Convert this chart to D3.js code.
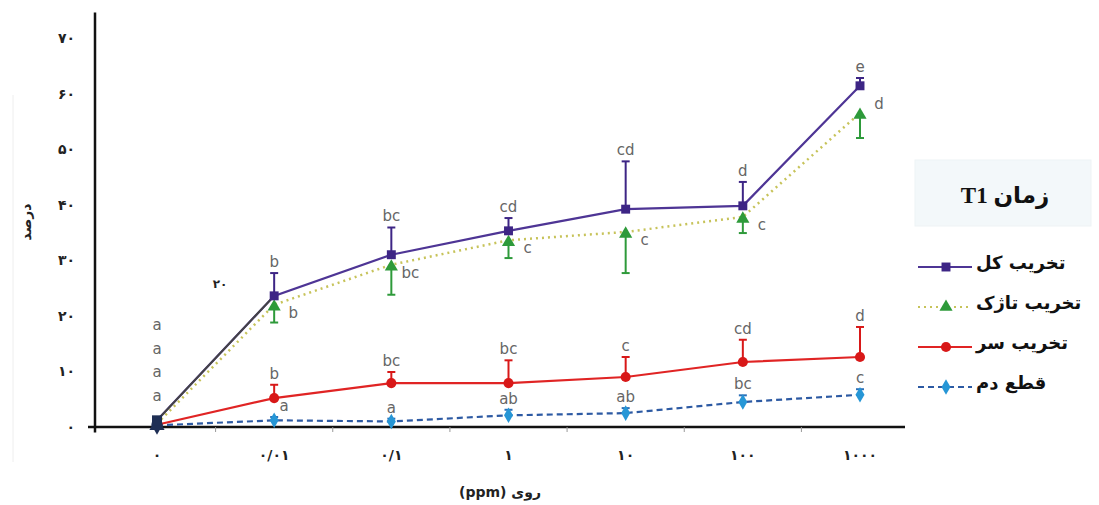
<!DOCTYPE html>
<html><head><meta charset="utf-8">
<script src="https://cdn.jsdelivr.net/npm/d3@7"></script>
<style>body{margin:0;background:#fff}svg{display:block}</style>
</head><body>
<svg id="c" width="1099" height="505"></svg>
<script>
const categories = ["۰","۰/۰۱","۰/۱","۱","۱۰","۱۰۰","۱۰۰۰"];
const yTicks = [0,10,20,30,40,50,60,70];
const yTickLabels = ["۰","۱۰","۲۰","۳۰","۴۰","۵۰","۶۰","۷۰"];
const seriesNames = ["تخریب کل","تخریب تاژک","تخریب سر","قطع دم"];
const total    = [1.2, 23.6, 31.0, 35.3, 39.2, 39.8, 61.4];
const totalErr = [0.5, 4.1, 4.9, 2.3, 8.6, 4.3, 1.4];
const stem     = [0.6, 22.0, 29.2, 33.6, 35.1, 37.8, 56.5];
const stemErr  = [0.3, 3.2, 5.4, 3.2, 7.4, 2.9, 4.5];
const head     = [0.4, 5.2, 7.9, 7.9, 9.0, 11.7, 12.6];
const headErr  = [0.2, 2.4, 2.0, 4.1, 3.6, 4.0, 5.4];
const tail     = [0.3, 1.2, 1.0, 2.1, 2.5, 4.5, 5.8];
const tailErr  = [0.2, 0.6, 0.5, 1.0, 0.9, 1.2, 1.0];
const totalLetters = ["a","b","bc","cd","cd","d","e"];
const stemLetters  = ["a","b","bc","c","c","c","d"];
const headLetters  = ["a","b","bc","bc","c","cd","d"];
const tailLetters  = ["a","a","a","ab","ab","bc","c"];
const legendTitle = "زمان T1";
const xTitle = "روی (ppm)";
const yTitle = "درصد";
const strayLabel = "۲۰";

const svg = d3.select("#c");
const x = d3.scalePoint().domain(categories).range([157, 860]);
const y = d3.scaleLinear().domain([0,70]).range([427, 38]);
const fa = "'DejaVu Sans', sans-serif";

// faint frame
svg.append("line").attr("x1",13).attr("x2",13).attr("y1",95).attr("y2",462).attr("stroke","#eee");

// y axis
svg.append("line").attr("x1",95).attr("x2",95).attr("y1",y(-1)).attr("y2",y(74.6)).attr("stroke","#111").attr("stroke-width",2.5);
svg.append("line").attr("x1",88).attr("x2",95).attr("y1",y(0)).attr("y2",y(0)).attr("stroke","#111").attr("stroke-width",2);
const yAxis = d3.axisLeft(y).tickValues(yTicks).tickSize(0).tickFormat((d,i)=>yTickLabels[i]);
const ga = svg.append("g").attr("transform","translate(78,0)").call(yAxis);
ga.select(".domain").remove();
ga.selectAll("text").attr("font-family",fa).attr("font-size",14).attr("font-weight","bold").attr("fill","#222").attr("dx",0);

// x axis
svg.append("line").attr("x1",88).attr("x2",905).attr("y1",y(0)).attr("y2",y(0)).attr("stroke","#111").attr("stroke-width",2.5);
const step = x.step();
svg.selectAll(".xt").data(categories.slice(0,-1)).enter().append("line")
  .attr("x1",d=>x(d)+step/2).attr("x2",d=>x(d)+step/2).attr("y1",y(0)).attr("y2",y(0)+5).attr("stroke","#999").attr("stroke-width",1);
svg.selectAll(".xl").data(categories).enter().append("text")
  .attr("x",d=>x(d)).attr("y",460).attr("text-anchor","middle").attr("font-family",fa).attr("font-size",14).attr("font-weight","bold").attr("fill","#222").text(d=>d);

// titles
svg.append("text").attr("x",500).attr("y",497).attr("text-anchor","middle").attr("direction","rtl").attr("font-family",fa).attr("font-size",14).attr("font-weight","bold").attr("fill","#222").text(xTitle);
svg.append("text").attr("transform","translate(31,222) rotate(-90)").attr("text-anchor","middle").attr("font-family",fa).attr("font-size",14).attr("font-weight","bold").attr("fill","#222").text(yTitle);
svg.append("text").attr("x",220).attr("y",288).attr("text-anchor","middle").attr("font-family",fa).attr("font-size",12).attr("font-weight","bold").attr("fill","#222").text(strayLabel);

const series = [
  {vals:total, e:totalErr, dir:1, line:"#4e3595", dash:null, w:2.2, mk:"square", mc:"#3d2585", ec:"#3d2585", letters:totalLetters, pos:"above"},
  {vals:stem, e:stemErr, dir:-1, line:"#c7c35a", dash:"2,4", w:2.5, mk:"triangle", mc:"#2e9a3a", ec:"#2e9a3a", letters:stemLetters, pos:"right"},
  {vals:head, e:headErr, dir:1, line:"#e02424", dash:null, w:2.2, mk:"circle", mc:"#d81818", ec:"#d81818", letters:headLetters, pos:"above"},
  {vals:tail, e:tailErr, dir:1, line:"#2d5aa3", dash:"6,4", w:2.2, mk:"diamond", mc:"#2696d6", ec:"#2a6fb8", letters:tailLetters, pos:"above"}
];
const sym = {square:d3.symbolSquare, triangle:d3.symbolTriangle, circle:d3.symbolCircle, diamond:d3.symbolDiamond};
const symSize = {square:80, triangle:75, circle:80, diamond:70};
const line = d3.line().x((d,i)=>x(categories[i])).y(d=>y(d));

// draw order: tail, head, stem, total
[3,2,1,0].forEach(si=>{
  const s = series[si];
  svg.append("path").datum(s.vals).attr("d",line).attr("fill","none").attr("stroke",s.line)
    .attr("stroke-width",s.w).attr("stroke-dasharray",s.dash);
  if(si===0){
    svg.append("path").datum(s.vals.slice(0,2)).attr("d",line).attr("fill","none").attr("stroke","#444").attr("stroke-width",2);
  }
});
[3,2,1,0].forEach(si=>{
  const s = series[si];
  const g = svg.append("g");
  s.vals.forEach((v,i)=>{
    if(i===0) return;
    const cx = x(categories[i]);
    const yEnd = y(v + s.dir*s.e[i]);
    g.append("line").attr("x1",cx).attr("x2",cx).attr("y1",y(v)).attr("y2",yEnd).attr("stroke",s.ec).attr("stroke-width",2);
    g.append("line").attr("x1",cx-4).attr("x2",cx+4).attr("y1",yEnd).attr("y2",yEnd).attr("stroke",s.ec).attr("stroke-width",2);
  });
  s.vals.forEach((v,i)=>{
    g.append("path").attr("d",d3.symbol().type(sym[s.mk]).size(i===0?100:symSize[s.mk])())
      .attr("transform",`translate(${x(categories[i])},${y(v)+(s.mk==="triangle"?2:0)})`)
      .attr("fill",i===0?"#1f2f55":s.mc);
  });
});

// letters
const lf = "'DejaVu Sans', sans-serif";
series.forEach((s,si)=>{
  s.letters.forEach((L,i)=>{
    let lx, ly;
    const cx = x(categories[i]);
    if(i===0){
      lx = cx; ly = y(0) - 97 + (si===0?0:si===1?23.5:si===2?47:70.5);
    } else if(s.pos==="right"){
      lx = cx + 19; ly = y(s.vals[i]) + (i===s.vals.length-1 ? -4 : 13);
    } else {
      lx = cx + (si===3 && i===1 ? 10 : 0); ly = y(s.vals[i] + s.e[i]) - 6;
    }
    svg.append("text").attr("x",lx).attr("y",ly).attr("text-anchor","middle").attr("font-family",lf)
      .attr("font-size",15).attr("fill","#666").text(L);
  });
});

// legend
svg.append("rect").attr("x",915).attr("y",160).attr("width",176).attr("height",66).attr("fill","#f3f8fa").attr("stroke","#eef3f5");
svg.append("text").attr("x",1005).attr("y",203).attr("text-anchor","middle").attr("direction","rtl")
  .attr("font-family","'Liberation Serif','DejaVu Sans',serif").attr("font-size",23).attr("font-weight","bold").attr("fill","#111").text(legendTitle);
seriesNames.forEach((n,k)=>{
  const s = series[k];
  const ly = 267 + k*40;
  svg.append("line").attr("x1",918).attr("x2",972).attr("y1",ly).attr("y2",ly).attr("stroke", s.line)
    .attr("stroke-width",2.2).attr("stroke-dasharray",s.dash);
  svg.append("path").attr("d",d3.symbol().type(sym[s.mk]).size(symSize[s.mk])()).attr("transform",`translate(946,${ly})`).attr("fill",s.mc);
  svg.append("text").attr("x",976).attr("y",ly+2).attr("text-anchor","start").attr("font-family",fa).attr("font-size",18).attr("font-weight","bold").attr("fill","#111").text(n);
});
</script>
</body></html>
